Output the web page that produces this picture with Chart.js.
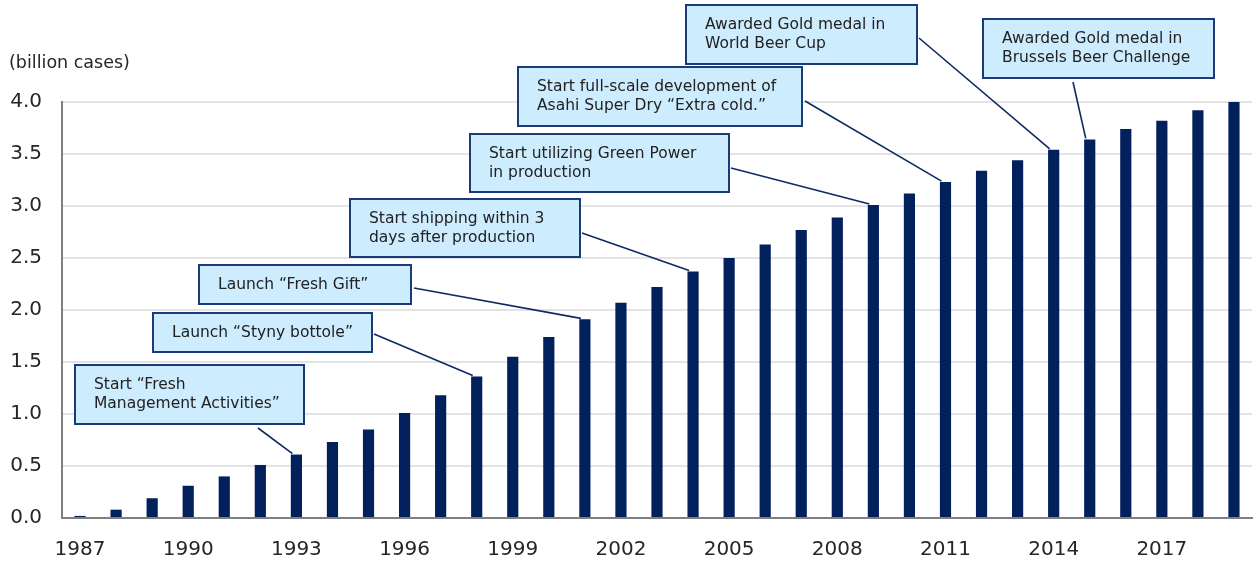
<!DOCTYPE html>
<html>
<head>
<meta charset="utf-8">
<script src="https://cdn.jsdelivr.net/npm/chart.js@4"></script>
<style>
  html, body { margin: 0; padding: 0; background: #fff; }
  #wrap { width: 1260px; height: 562px; position: relative; }
</style>
</head>
<body>
<div id="wrap"><canvas id="salesChart"></canvas></div>
<script>
// categories and values (billion cases)
const years = [1987, 1988, 1989, 1990, 1991, 1992, 1993, 1994, 1995, 1996, 1997,
    1998, 1999, 2000, 2001, 2002, 2003, 2004, 2005, 2006, 2007, 2008,
    2009, 2010, 2011, 2012, 2013, 2014, 2015, 2016, 2017, 2018, 2019];
const cases = [0.02, 0.08, 0.19, 0.31, 0.40, 0.51, 0.61, 0.73, 0.85, 1.01, 1.18,
    1.36, 1.55, 1.74, 1.91, 2.07, 2.22, 2.37, 2.50, 2.63, 2.77, 2.89,
    3.01, 3.12, 3.23, 3.34, 3.44, 3.54, 3.64, 3.74, 3.82, 3.92, 4.00];
const yTicks = [0, 0.5, 1, 1.5, 2, 2.5, 3, 3.5, 4];
const unitLabel = '(billion cases)';

// milestone notes: text lines and the year they point at
const noteTexts = [
    ['Start \u201cFresh', 'Management Activities\u201d'],
    ['Launch \u201cStyny bottole\u201d'],
    ['Launch \u201cFresh Gift\u201d'],
    ['Start shipping within 3', 'days after production'],
    ['Start utilizing Green Power', 'in production'],
    ['Start full-scale development of', 'Asahi Super Dry \u201cExtra cold.\u201d'],
    ['Awarded Gold medal in', 'World Beer Cup'],
    ['Awarded Gold medal in', 'Brussels Beer Challenge']
];
const noteYears = [1993, 1998, 2001, 2004, 2009, 2011, 2014, 2015];

// box layout (x, y, w, h) and where the leader line starts
const noteBoxes = [
    [75, 365, 229, 59], [153, 313, 219, 39], [199, 265, 212, 39], [350, 199, 230, 58],
    [470, 134, 259, 58], [518, 67, 284, 59], [686, 5, 231, 59], [983, 19, 231, 59]
];
const lineStarts = [
    [258, 428], [374, 334], [414, 288], [582, 233],
    [731, 168], [805, 101], [919, 38], [1073, 82]
];

const FONT = "'DejaVu Sans', Verdana, sans-serif";

const notesPlugin = {
    id: 'notes',
    afterDatasetsDraw(chart) {
        const ctx = chart.ctx;
        const xs = chart.scales.x;
        const ys = chart.scales.y;
        ctx.save();

        // unit label
        ctx.fillStyle = '#262626';
        ctx.font = '17.5px ' + FONT;
        ctx.textAlign = 'left';
        ctx.textBaseline = 'middle';
        ctx.fillText(unitLabel, 9, 63);

        noteTexts.forEach((lines, i) => {
            const idx = years.indexOf(noteYears[i]);
            const bx = xs.getPixelForValue(idx) - 4;
            const by = ys.getPixelForValue(cases[idx]) - 1;
            const [sx, sy] = lineStarts[i];

            ctx.strokeStyle = '#0e2a63';
            ctx.lineWidth = 1.6;
            ctx.beginPath();
            ctx.moveTo(sx, sy);
            ctx.lineTo(bx, by);
            ctx.stroke();

            const [x, y, w, h] = noteBoxes[i];
            ctx.fillStyle = '#cdecfd';
            ctx.fillRect(x, y, w, h);
            ctx.strokeStyle = '#1b3a78';
            ctx.lineWidth = 2;
            ctx.strokeRect(x, y, w, h);

            ctx.fillStyle = '#222';
            ctx.font = '15.5px ' + FONT;
            ctx.textAlign = 'left';
            ctx.textBaseline = 'middle';
            const lh = 19;
            const top = y + h / 2 - (lines.length - 1) * lh / 2;
            lines.forEach((t, j) => ctx.fillText(t, x + 19, top + j * lh));
        });
        ctx.restore();
    }
};

const ctx = document.getElementById('salesChart').getContext('2d');
new Chart(ctx, {
    type: 'bar',
    data: {
        labels: years.map(String),
        datasets: [{
            label: 'Sales',
            data: cases,
            backgroundColor: '#02205c',
            barPercentage: 0.31,
            categoryPercentage: 1
        }]
    },
    options: {
        responsive: true,
        maintainAspectRatio: false,
        animation: false,
        layout: { padding: { top: 102, right: 8, left: 0, bottom: 0 } },
        plugins: {
            legend: { display: false },
            tooltip: { enabled: false }
        },
        scales: {
            x: {
                grid: { display: false, drawTicks: false },
                border: { color: '#7f7f7f', width: 2 },
                ticks: {
                    autoSkip: false,
                    maxRotation: 0,
                    padding: 20,
                    color: '#262626',
                    font: { family: FONT, size: 20 },
                    callback: function (v, i) { return i % 3 === 0 ? this.getLabelForValue(v) : ''; }
                },
                afterFit: (s) => { s.height = 44; }
            },
            y: {
                min: 0,
                max: 4,
                afterBuildTicks: (s) => { s.ticks = yTicks.map(v => ({ value: v })); },
                grid: { color: '#e3e3e3', lineWidth: 2, drawTicks: false },
                border: { color: '#7f7f7f', width: 2 },
                ticks: {
                    padding: 20,
                    color: '#262626',
                    font: { family: FONT, size: 20 },
                    callback: (v) => v.toFixed(1)
                },
                afterFit: (s) => { s.width = 62; }
            }
        }
    },
    plugins: [notesPlugin]
});
</script>
</body>
</html>
